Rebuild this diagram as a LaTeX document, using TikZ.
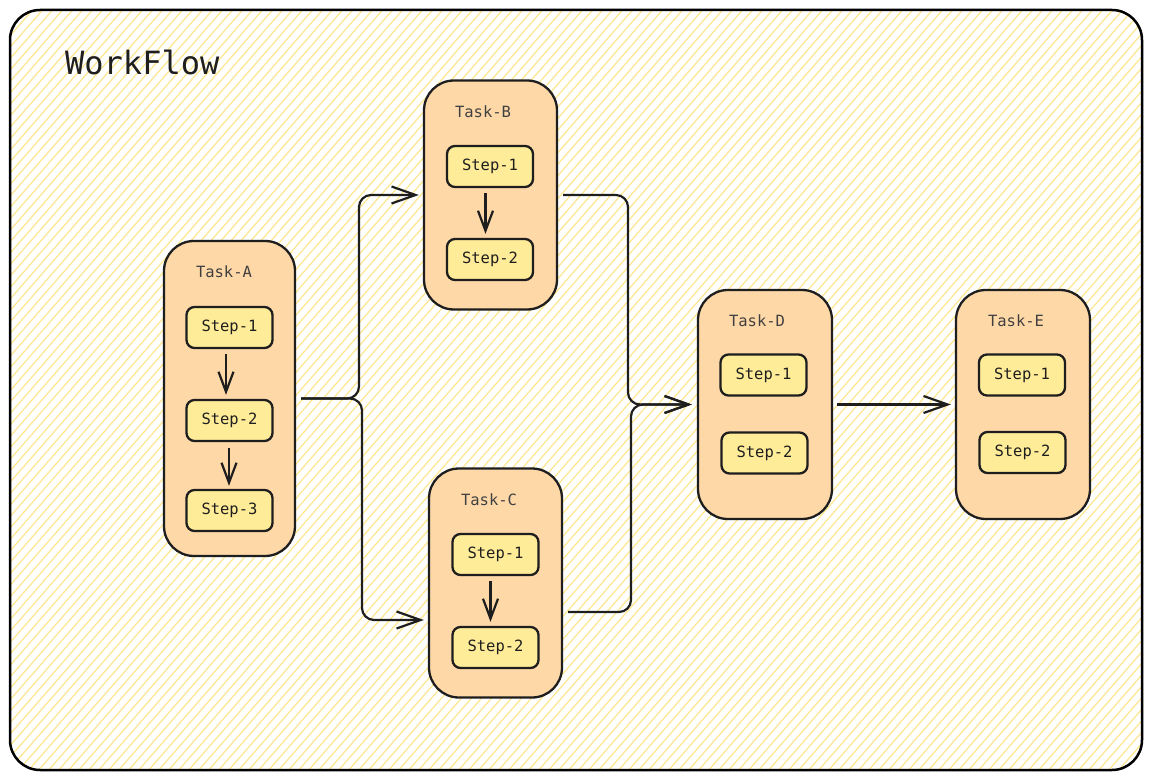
\documentclass[tikz,border=0pt]{standalone}
\usepackage{fontspec}
\newfontfamily\monofnt{DejaVu Sans Mono}
\usetikzlibrary{arrows.meta}
\definecolor{stroke}{HTML}{1E1E1E}
\definecolor{taskfill}{HTML}{FFD8A8}
\definecolor{stepfill}{HTML}{FFEC99}
\definecolor{hatch}{HTML}{FEE68F}
\tikzset{
  taskbox/.style={draw=stroke, fill=taskfill, line width=2.3pt, rounded corners=30pt, minimum width=#1, minimum height=229pt, inner sep=0pt},
  stepbox/.style={draw=stroke, fill=stepfill, line width=2.3pt, rounded corners=8pt, minimum width=86pt, minimum height=41pt, inner sep=0pt, font=\monofnt\fontsize{15.5}{17}\selectfont, text=stroke},
  tasklabel/.style={font=\monofnt\fontsize{15.5}{17}\selectfont, text=stroke!85, inner sep=0pt},
  flow/.style={draw=stroke, line width=2.2pt, rounded corners=12pt, -{Straight Barb[length=24pt,width=17pt,line width=2.2pt]}},
  stepflow/.style={draw=stroke, line width=2.2pt, -{Straight Barb[length=20pt,width=15pt,line width=2.2pt]}}
}
\begin{document}
\begin{tikzpicture}[x=1pt,y=-1pt]
\useasboundingbox (0,0) rectangle (1152,778);
% outer frame with hatching
\begin{scope}
  \clip[rounded corners=30pt] (10,10) rectangle (1142,770);
  \fill[white] (10,10) rectangle (1142,770);
  \foreach \i in {-70,...,116} {
    \draw[hatch, line width=1.2pt] (\i*10,780) -- ++(690,-790);
  }
\end{scope}
\draw[stroke, line width=2.5pt, rounded corners=30pt] (10,10) rectangle (1142,770);
\node[anchor=west, font=\monofnt\fontsize{32}{36}\selectfont, text=stroke, inner sep=0pt] (title) at (65,62) {WorkFlow};

% tasks
\node[taskbox=131pt, minimum height=315pt] (A) at (229.5,398.5) {};
\node[taskbox=133pt] (B) at (490.5,195) {};
\node[taskbox=133pt] (C) at (495.5,583) {};
\node[taskbox=134pt] (D) at (765,404.5) {};
\node[taskbox=134pt] (E) at (1023,404.5) {};

\node[tasklabel] (lA) at (224,272) {Task-A};
\node[tasklabel] (lB) at (483,112) {Task-B};
\node[tasklabel] (lC) at (489,500) {Task-C};
\node[tasklabel] (lD) at (757,321) {Task-D};
\node[tasklabel] (lE) at (1016,321) {Task-E};

% steps
\node[stepbox] (A1) at (229.5,327.5) {Step-1};
\node[stepbox] (A2) at (229.5,420.5) {Step-2};
\node[stepbox] (A3) at (229.5,510.5) {Step-3};
\node[stepbox] (B1) at (490,166.5) {Step-1};
\node[stepbox] (B2) at (490,259.5) {Step-2};
\node[stepbox] (C1) at (495.5,554.5) {Step-1};
\node[stepbox] (C2) at (495.5,647.5) {Step-2};
\node[stepbox] (D1) at (763.5,375) {Step-1};
\node[stepbox] (D2) at (764.5,453) {Step-2};
\node[stepbox] (E1) at (1022,375) {Step-1};
\node[stepbox] (E2) at (1022.5,452.5) {Step-2};

% step arrows
\draw[stepflow, shorten <=5pt, shorten >=4pt] ([xshift=-3.5pt]A1.south) -- ([xshift=-3.5pt]A2.north);
\draw[stepflow, shorten <=6pt, shorten >=3pt] ([xshift=-0.5pt]A2.south) -- ([xshift=-0.5pt]A3.north);
\draw[stepflow, shorten <=5pt, shorten >=4pt] ([xshift=-4.5pt]B1.south) -- ([xshift=-4.5pt]B2.north);
\draw[stepflow, shorten <=5pt, shorten >=4pt] ([xshift=-5pt]C1.south) -- ([xshift=-5pt]C2.north);

% connectors
\coordinate (ja) at (359,398.5);
\coordinate (jb) at (362,398.5);
\draw[flow, shorten <=5pt, shorten >=4pt] (A.east) -- (ja) |- (B.west);
\draw[flow, shorten <=5pt, shorten >=4pt] (A.east) -- (jb) |- ([yshift=-37pt]C.west);
\coordinate (jd) at (628,195);
\coordinate (je) at (631,612);
\draw[flow, shorten <=5pt, shorten >=5pt] (B.east) -- (jd) |- (D.west);
\draw[flow, shorten <=5pt, shorten >=5pt] ([yshift=-29pt]C.east) -- (je) |- (D.west);
\draw[flow, shorten <=4pt, shorten >=4pt] (D.east) -- (E.west);
\end{tikzpicture}
\end{document}
